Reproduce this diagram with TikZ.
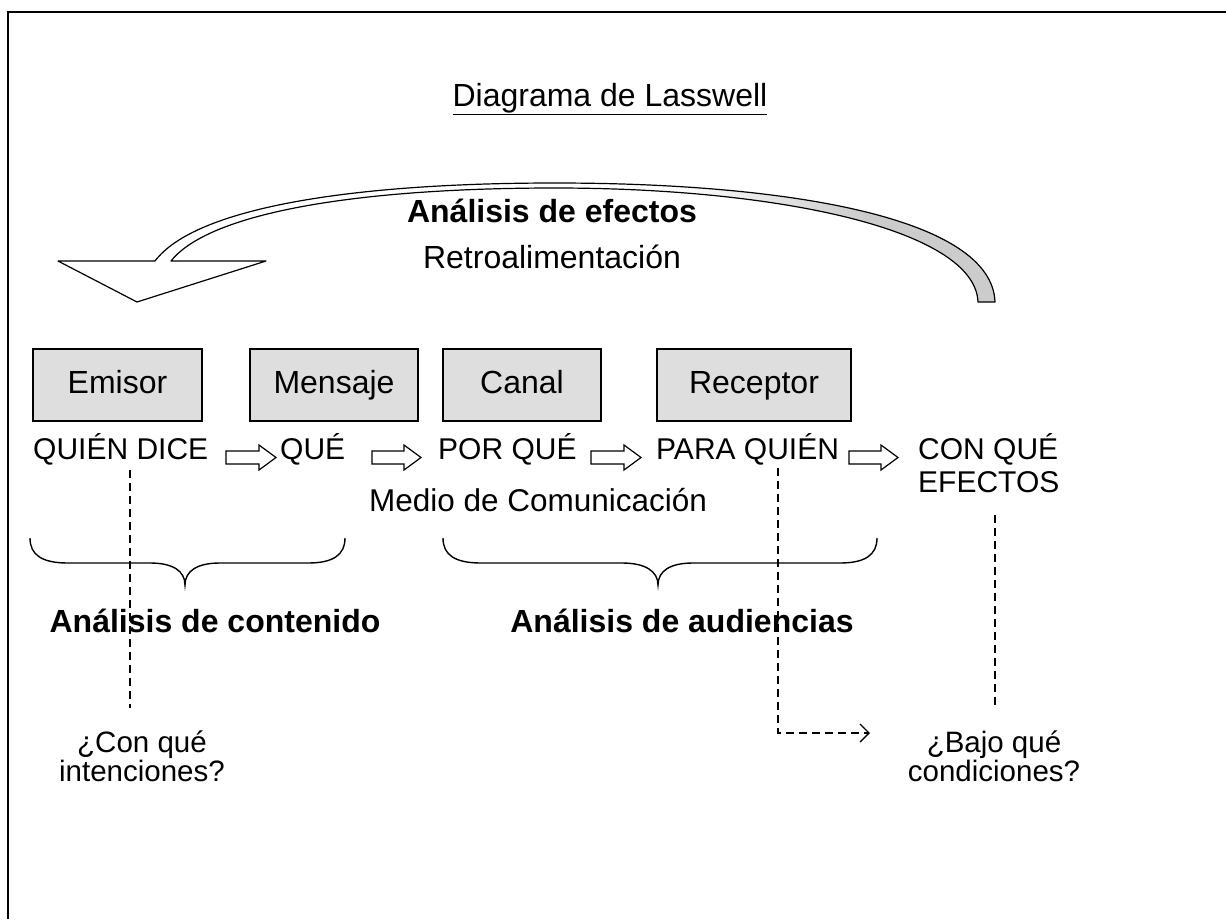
\documentclass[tikz,border=0pt]{standalone}
\usepackage{fontspec}
\setmainfont{Liberation Sans}
\usetikzlibrary{arrows.meta}
\pgfdeclarehorizontalshading{bandfade}{100bp}{color(0bp)=(white); color(58bp)=(white); color(68bp)=(black!20); color(100bp)=(black!20)}
\begin{document}
\begin{tikzpicture}[x=1pt,y=-1pt,
  txt/.style={font=\fontsize{30}{34}\selectfont, inner sep=0pt},
  bigtxt/.style={font=\fontsize{32}{36}\selectfont, inner sep=0pt},
  qtxt/.style={font=\fontsize{29.5}{33}\selectfont, inner sep=0pt},
  btxt/.style={font=\fontsize{32}{36}\selectfont\bfseries, inner sep=0pt},
  stage/.style={draw, line width=1.3pt, fill=black!13, minimum height=72pt, inner sep=0pt,
    text height=23pt, text depth=6pt, font=\fontsize{32}{36}\selectfont},
  flow/.style={draw, line width=1.2pt, fill=white},
  brace/.style={draw, line width=1.4pt},
  dashline/.style={draw, line width=1.3pt, dash pattern=on 8pt off 5pt},
  frame/.style={draw, line width=2pt}
]
\useasboundingbox (0,0) rectangle (1226,919);
% frame
\coordinate (f1) at (1226,12);
\coordinate (f2) at (8,12);
\coordinate (f3) at (8,919);
\draw[frame] (f1) -- (f2) -- (f3);

% title
\node[bigtxt, anchor=base] (title) at (610,106) {\underline{Diagrama de Lasswell}};

% curved feedback arrow
\shade[shading=bandfade, draw, line width=1.2pt, line join=round]
  (155,261) -- (58,261) -- (137,302) -- (266,261) -- (171,261)
  .. controls (210,212) and (360,188) .. (555,188)
  .. controls (780,188) and (975,230) .. (978,302)
  -- (995,302)
  .. controls (992,218) and (790,183) .. (555,183)
  .. controls (350,183) and (195,208) .. (155,261) -- cycle;
\node[btxt, anchor=base] (efectos) at (552,222) {Análisis de efectos};
\node[bigtxt, anchor=base] (retro) at (552,268) {Retroalimentación};

% boxes
\node[stage, minimum width=169pt] (emisor) at (117.5,385) {Emisor};
\node[stage, minimum width=168pt] (mensaje) at (334,385) {Mensaje};
\node[stage, minimum width=158pt] (canal) at (522,385) {Canal};
\node[stage, minimum width=194pt] (receptor) at (754,385) {Receptor};

% row of questions
\node[txt, anchor=base west] (quien) at (33,459) {QUIÉN DICE};
\node[txt, anchor=base west] (que) at (280,459) {QUÉ};
\node[txt, anchor=base west] (porque) at (438,459) {POR QUÉ};
\node[txt, anchor=base west] (para) at (656,459) {PARA QUIÉN};
\node[txt, anchor=base west] (con) at (918,459) {CON QUÉ};
\node[txt, anchor=base west] (efect) at (918,492) {EFECTOS};

% block arrows
\foreach \xa/\xb in {226/276, 372/421, 591/641, 849/898}{
  \path[flow] (\xa,451) -- (\xb-17,451) -- (\xb-17,445) -- (\xb,457.5) -- (\xb-17,470) -- (\xb-17,464) -- (\xa,464) -- cycle;
}

\node[font=\fontsize{31.5}{35}\selectfont, inner sep=0pt, anchor=base] (medio) at (538,511) {Medio de Comunicación};

% braces
\path[brace] (30,538) .. controls (30,555) and (42,563) .. (68,563) -- (150,563)
  .. controls (173,563) and (185,571) .. (185,585)
  .. controls (185,571) and (197,563) .. (220,563) -- (308,563)
  .. controls (333,563) and (345,555) .. (345,538);
\path[brace] (443,538) .. controls (443,555) and (455,563) .. (481,563) -- (622,563)
  .. controls (645,563) and (658,571) .. (658,585)
  .. controls (658,571) and (670,563) .. (693,563) -- (840,563)
  .. controls (865,563) and (877,555) .. (877,538);

\node[btxt, anchor=base] (contenido) at (215,632) {Análisis de contenido};
\node[btxt, anchor=base] (audiencias) at (682,632) {Análisis de audiencias};

% question texts
\node[qtxt, anchor=base] (intA) at (142,752) {¿Con qué};
\node[qtxt, anchor=base] (intB) at (142,781) {intenciones?};
\node[qtxt, anchor=base] (condA) at (994,752) {¿Bajo qué};
\node[qtxt, anchor=base] (condB) at (994,781) {condiciones?};

% dashed connectors
\coordinate (l1) at (130,470);
\coordinate (l2) at (130,708);
\draw[dashline] (l1) -- (l2);
\coordinate (r1) at (778,468);
\coordinate (r2) at (778,733);
\coordinate (r3) at (870,733);
\draw[dashline, -{Straight Barb[length=9pt,width=18pt,line width=1.3pt]}] (r1) -- (r2) -- (r3);
\coordinate (c1) at (995,515);
\coordinate (c2) at (995,705);
\draw[dashline] (c1) -- (c2);
\end{tikzpicture}
\end{document}
